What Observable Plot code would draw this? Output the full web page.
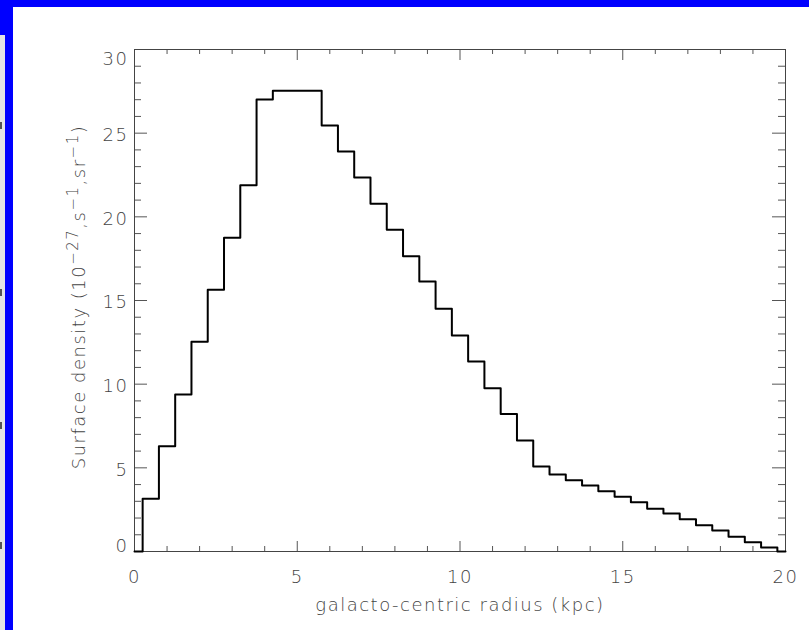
<!DOCTYPE html>
<html><head><meta charset="utf-8">
<script src="https://cdn.jsdelivr.net/npm/d3@7"></script>
<script src="https://cdn.jsdelivr.net/npm/@observablehq/plot@0.6"></script>
<style>
html,body{margin:0;padding:0;background:#fff;width:809px;height:630px;overflow:hidden;}
#wrap{position:relative;width:809px;height:630px;}
#wrap svg text{letter-spacing:1.5px;font-weight:300;}
.deco{position:absolute;}
</style></head><body>
<div id="wrap"></div>
<div class="deco" style="left:0;top:0;width:809px;height:7px;background:#0000ff"></div>
<div class="deco" style="left:5px;top:0;width:8px;height:630px;background:#0000ff"></div>
<div class="deco" style="left:0;top:0;width:5px;height:35px;background:#0000ff"></div>
<div class="deco" style="left:0;top:35px;width:5px;height:595px;background:#e5e5e5"></div>
<div class="deco" style="left:0;top:122px;width:2px;height:7px;background:#555"></div>
<div class="deco" style="left:0;top:289px;width:2px;height:7px;background:#555"></div>
<div class="deco" style="left:0;top:422px;width:2px;height:7px;background:#555"></div>
<div class="deco" style="left:0;top:542px;width:2px;height:7px;background:#555"></div>
<script>
const radius = [0,0.5,1,1.5,2,2.5,3,3.5,4,4.5,5,5.5,6,6.5,7,7.5,8,8.5,9,9.5,10,10.5,11,11.5,12,12.5,13,13.5,14,14.5,15,15.5,16,16.5,17,17.5,18,18.5,19,19.5,20];
const density = [0,3.15,6.29,9.38,12.53,15.64,18.75,21.89,27.01,27.53,27.53,27.53,25.46,23.9,22.35,20.78,19.23,17.65,16.14,14.5,12.91,11.36,9.76,8.21,6.63,5.08,4.6,4.26,3.94,3.6,3.27,2.95,2.55,2.27,1.93,1.57,1.26,0.88,0.56,0.24,0];
const xMajorTicks = [0,5,10,15,20];
const xMinorTicks = [1,2,3,4,6,7,8,9,11,12,13,14,16,17,18,19];
const yMajorTicks = [0,5,10,15,20,25,30];
const yMinorTicks = [1,2,3,4,6,7,8,9,11,12,13,14,16,17,18,19,21,22,23,24,26,27,28,29];
const xLabel = "galacto-centric radius (kpc)";
const yLabelParts = [["Surface density (10",0],["−27",1],[",s",0],["−1",1],[",sr",0],["−1",1],[")",0]];

const data = radius.map((r,i)=>({r, v: density[i]}));
const axisColor = "#555";
const textColor = "#444";
const yMid = yMajorTicks.filter(d=>d!==0 && d!==30);

const chart = Plot.plot({
  width: 809, height: 630,
  marginLeft: 134, marginRight: 24, marginTop: 49, marginBottom: 79,
  x: {domain: [0,20], axis: null},
  y: {domain: [0,30], axis: null},
  style: {fontFamily: "DejaVu Sans", fontSize: "18px", background: "transparent", overflow: "visible"},
  marks: [
    Plot.tickX(xMajorTicks, {x: d=>d, insetTop: 492, stroke: axisColor}),
    Plot.tickX(xMinorTicks, {x: d=>d, insetTop: 497, stroke: axisColor}),
    Plot.tickX(xMajorTicks, {x: d=>d, insetBottom: 491, stroke: axisColor}),
    Plot.tickX(xMinorTicks, {x: d=>d, insetBottom: 497, stroke: axisColor}),
    Plot.tickY(yMajorTicks, {y: d=>d, insetRight: 638, stroke: axisColor}),
    Plot.tickY(yMinorTicks, {y: d=>d, insetRight: 644, stroke: axisColor}),
    Plot.tickY(yMajorTicks, {y: d=>d, insetLeft: 638, stroke: axisColor}),
    Plot.tickY(yMinorTicks, {y: d=>d, insetLeft: 644, stroke: axisColor}),
    Plot.frame({stroke: "#444"}),
    Plot.line(data, {x: "r", y: "v", curve: "step", stroke: "#000", strokeWidth: 2}),
    Plot.text(xMajorTicks, {x: d=>d, text: d=>String(d), frameAnchor: "bottom", lineAnchor: "middle", dy: 26, fill: textColor}),
    Plot.text(yMid, {y: d=>d, text: d=>String(d), frameAnchor: "left", textAnchor: "end", lineAnchor: "middle", dx: -6, dy: 2.2, fill: textColor}),
    Plot.text([30], {y: d=>d, text: d=>String(d), frameAnchor: "left", textAnchor: "end", lineAnchor: "middle", dx: -6, dy: 9.7, fill: textColor}),
    Plot.text([0], {y: d=>d, text: d=>String(d), frameAnchor: "left", textAnchor: "end", lineAnchor: "middle", dx: -6, dy: -5.3, fill: textColor}),
    Plot.text([xLabel], {text: d=>d, frameAnchor: "bottom", lineAnchor: "middle", dy: 54, fill: textColor})
  ]
});
document.getElementById("wrap").appendChild(chart);

// rotated y-axis title with superscripts
const ys = chart.scale("y");
const cy = (ys.apply(0) + ys.apply(30)) / 2 - 3;
const cx = 134 - 49;
const t = d3.select(chart).append("text")
  .attr("transform", `translate(${cx},${cy}) rotate(-90)`)
  .attr("text-anchor", "middle")
  .attr("fill", textColor)
  .style("font-family", "DejaVu Sans")
  .style("font-size", "18px");
let prev = 0;
for (const [s, sup] of yLabelParts) {
  const dy = sup ? (prev ? 0 : -7) : (prev ? 7 : 0);
  t.append("tspan").attr("dy", dy).style("font-size", sup ? "15px" : "18px").text(s);
  prev = sup;
}
</script>
</body></html>
